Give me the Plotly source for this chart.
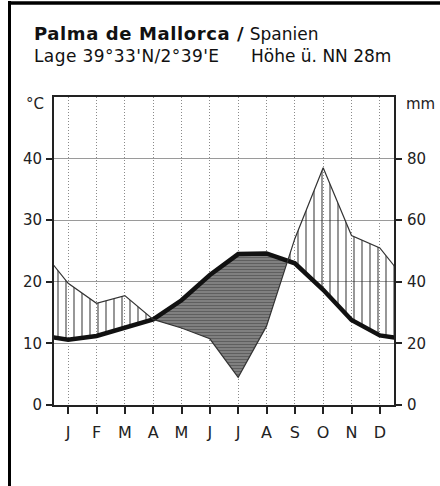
import numpy as np
import plotly.graph_objects as go

# ---------------- data ----------------
months = ["J", "F", "M", "A", "M", "J", "J", "A", "S", "O", "N", "D"]
temp_c = [10.6, 11.2, 12.5, 13.9, 17.0, 21.1, 24.5, 24.6, 23.0, 18.7, 13.8, 11.3]
precip_mm = [39.5, 33.0, 35.5, 27.8, 25.0, 21.5, 9.0, 25.6, 54.0, 77.0, 55.0, 51.0]
temp_ticks = [0, 10, 20, 30, 40]
precip_ticks = [0, 20, 40, 60, 80]
title_station = "Palma de Mallorca"
title_country = "Spanien"
subtitle_pos = "Lage 39°33'N/2°39'E"
subtitle_alt = "Höhe ü. NN 28m"

# ---------------- geometry ----------------
W, H = 440, 486
L, R, T, B = 54, 394, 97, 405
FONT = "DejaVu Sans"
INK = "#222222"


def px_x(px):
    return (px - L) / (R - L)


def px_y(py):
    return (B - py) / (B - T)


# wrap-around (December before, January after) so the curves run to the frame edges
x = np.arange(0, 14, dtype=float)
t = np.array([temp_c[-1]] + temp_c + [temp_c[0]], dtype=float)
p_mm = np.array([precip_mm[-1]] + precip_mm + [precip_mm[0]], dtype=float)
p = p_mm / 2.0  # 10 °C = 20 mm

# insert crossing points of the two curves for clean fills
xs, ts, ps = [x[0]], [t[0]], [p[0]]
for i in range(len(x) - 1):
    d0, d1 = p[i] - t[i], p[i + 1] - t[i + 1]
    if d0 * d1 < 0:
        f = d0 / (d0 - d1)
        xc = x[i] + f * (x[i + 1] - x[i])
        tc = t[i] + f * (t[i + 1] - t[i])
        xs.append(xc); ts.append(tc); ps.append(tc)
    xs.append(x[i + 1]); ts.append(t[i + 1]); ps.append(p[i + 1])
xs, ts, ps = map(np.array, (xs, ts, ps))
upper_humid = np.maximum(ps, ts)
lower_arid = np.minimum(ps, ts)

fig = go.Figure()
nol = dict(width=0, color="rgba(0,0,0,0)")

# humid period: vertical hatching
fig.add_trace(go.Scatter(x=xs, y=ts, mode="lines", line=nol, hoverinfo="skip", showlegend=False))
fig.add_trace(go.Scatter(
    x=xs, y=upper_humid, mode="lines", line=nol, fill="tonexty",
    fillcolor="rgba(0,0,0,0)",
    fillpattern=dict(shape="|", fgcolor="#262626", bgcolor="rgba(0,0,0,0)", size=8, solidity=0.24),
    hoverinfo="skip", showlegend=False))
# arid period: dense horizontal hatching
fig.add_trace(go.Scatter(x=xs, y=lower_arid, mode="lines", line=nol, hoverinfo="skip", showlegend=False))
fig.add_trace(go.Scatter(
    x=xs, y=ts, mode="lines", line=nol, fill="tonexty",
    fillcolor="#7a7a7a",
    fillpattern=dict(shape="-", fgcolor="#383838", bgcolor="#878787", size=3, solidity=0.45),
    hoverinfo="skip", showlegend=False))

# precipitation line (right axis, mm)
fig.add_trace(go.Scatter(x=x, y=p_mm, mode="lines", yaxis="y2",
                         line=dict(color="#333333", width=1.2), showlegend=False))
# temperature line
fig.add_trace(go.Scatter(x=x, y=t, mode="lines",
                         line=dict(color="#111111", width=4.5), showlegend=False))

axis_common = dict(showline=True, linecolor=INK, linewidth=2, ticks="outside",
                   tickcolor=INK, tickwidth=1.5, zeroline=False)

fig.update_layout(
    width=W, height=H, autosize=False,
    margin=dict(l=L, r=W - R, t=T, b=H - B, pad=0),
    paper_bgcolor="white", plot_bgcolor="white",
    xaxis=dict(range=[0.5, 12.5], tickmode="array", tickvals=list(range(1, 13)),
               ticktext=months, showgrid=True, gridcolor="#8a8a8a", gridwidth=1,
               griddash="1px,2px", mirror=True, ticklen=7, ticklabelstandoff=5,
               tickfont=dict(family=FONT, size=16, color=INK), **axis_common),
    yaxis=dict(range=[0, 50], tickmode="array", tickvals=temp_ticks,
               showgrid=True, gridcolor="#9a9a9a", gridwidth=1, ticklen=6,
               ticklabelstandoff=1, tickfont=dict(family=FONT, size=15, color=INK),
               **axis_common),
    yaxis2=dict(range=[0, 100], tickmode="array", tickvals=precip_ticks,
                overlaying="y", side="right", showgrid=False, ticklen=6,
                ticklabelstandoff=2, tickfont=dict(family=FONT, size=15, color=INK),
                **axis_common),
    showlegend=False,
)

ann = []
ann.append(dict(x=px_x(32), y=px_y(34), xref="paper", yref="paper", xanchor="left", yanchor="middle",
                showarrow=False,
                text=(f"<span style='letter-spacing:0.6px'><b>{title_station} /</b></span>"
                      f"<span style='font-size:17px'> {title_country}</span>"),
                font=dict(family=FONT, size=18, color="#111111")))
ann.append(dict(x=px_x(32), y=px_y(56), xref="paper", yref="paper", xanchor="left", yanchor="middle",
                showarrow=False, text=f"<span style='letter-spacing:0.4px'>{subtitle_pos}</span>",
                font=dict(family=FONT, size=17, color="#111111")))
ann.append(dict(x=px_x(249), y=px_y(56), xref="paper", yref="paper", xanchor="left", yanchor="middle",
                showarrow=False, text=subtitle_alt,
                font=dict(family=FONT, size=17, color="#111111")))
ann.append(dict(x=px_x(46), y=px_y(104), xref="paper", yref="paper", xanchor="right", yanchor="middle",
                showarrow=False, text="°C", font=dict(family=FONT, size=15, color=INK)))
ann.append(dict(x=px_x(404), y=px_y(104), xref="paper", yref="paper", xanchor="left", yanchor="middle",
                showarrow=False, text="mm", font=dict(family=FONT, size=15, color=INK)))
fig.update_layout(annotations=ann)

# outer frame (left and top edges)
fig.add_shape(type="rect", xref="paper", yref="paper", x0=px_x(8), x1=px_x(11),
              y0=px_y(1), y1=px_y(H), line=dict(width=0), fillcolor="black")
fig.add_shape(type="line", xref="paper", yref="paper", x0=px_x(8), x1=px_x(W),
              y0=px_y(3), y1=px_y(3), line=dict(width=3.5, color="black"))

# page margin off so the figure sits at the window's top-left corner
fig.write_html("out.html", config={"displayModeBar": False},
               post_script="document.body.style.margin='0px';")
